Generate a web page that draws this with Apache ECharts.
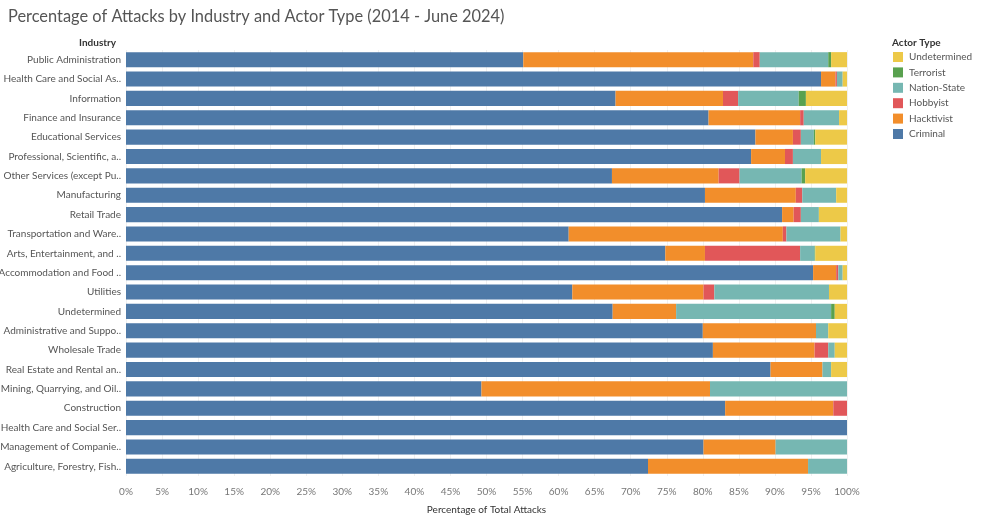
<!DOCTYPE html>
<html><head><meta charset="utf-8">
<script src="https://cdn.jsdelivr.net/npm/echarts@6/dist/echarts.min.js"></script>
<style>html,body{margin:0;padding:0;background:#fff}#c{width:1000px;height:519px}</style>
</head><body><div id="c"></div>
<script>
const industries = ["Public Administration","Health Care and Social As..","Information","Finance and Insurance","Educational Services","Professional, Scientific, a..","Other Services (except Pu..","Manufacturing","Retail Trade","Transportation and Ware..","Arts, Entertainment, and ..","Accommodation and Food ..","Utilities","Undetermined","Administrative and Suppo..","Wholesale Trade","Real Estate and Rental an..","Mining, Quarrying, and Oil..","Construction","Health Care and Social Ser..","Management of Companie..","Agriculture, Forestry, Fish.."];
const criminal     = [55.1,96.4,67.9,80.8,87.3,86.7,67.4,80.3,91.0,61.4,74.8,95.3,61.9,67.5,80.0,81.4,89.4,49.3,83.1,100,80.1,72.4];
const hacktivist   = [31.9, 2.0,14.9,12.7, 5.2, 4.7,14.8,12.6, 1.6,29.7, 5.5, 3.2,18.2, 8.8,15.7,14.1, 7.2,31.7,15.0,0,10.0,22.2];
const hobbyist     = [ 0.9, 0.2, 2.1, 0.5, 1.1, 1.1, 2.9, 0.9, 1.0, 0.5,13.2, 0.3, 1.5, 0, 0, 1.9, 0, 0, 1.9, 0, 0, 0];
const nationState  = [ 9.5, 0.8, 8.4, 4.9, 1.8, 3.9, 8.6, 4.7, 2.5, 7.5, 2.0, 0.6,15.9,21.5, 1.7, 0.9, 1.2,19.0, 0, 0, 9.9, 5.4];
const terrorist    = [ 0.4, 0, 1.0, 0, 0.2, 0, 0.5, 0, 0, 0, 0.1, 0, 0, 0.5, 0, 0, 0, 0, 0, 0, 0, 0];
const undetermined = [ 2.2, 0.6, 5.7, 1.1, 4.4, 3.6, 5.8, 1.5, 3.9, 0.9, 4.4, 0.6, 2.5, 1.7, 2.6, 1.7, 2.2, 0, 0, 0, 0, 0];
const seriesNames = ["Criminal","Hacktivist","Hobbyist","Nation-State","Terrorist","Undetermined"];
const seriesData = [criminal,hacktivist,hobbyist,nationState,terrorist,undetermined];
const colors = ["#4e79a7","#f28e2b","#e15759","#76b7b2","#59a14f","#edc948"];
const legendOrder = ["Undetermined","Terrorist","Nation-State","Hobbyist","Hacktivist","Criminal"];

const chart = echarts.init(document.getElementById('c'));
const font = 'Lato, "Open Sans", sans-serif';
chart.setOption({
  animation:false,
  textStyle:{fontFamily:font},
  title:[
    {text:"Percentage of Attacks by Industry and Actor Type (2014 - June 2024)",left:3,top:4,textStyle:{fontSize:16.4,fontWeight:'normal',color:'#555',fontFamily:font}},
    {text:"Industry",right:879,top:33,textStyle:{fontSize:10,fontWeight:'bold',color:'#333',fontFamily:font}},
    {text:"Actor Type",left:887,top:33,textStyle:{fontSize:10,fontWeight:'bold',color:'#333',fontFamily:font}}
  ],
  legend:{orient:'vertical',left:888,top:47,itemWidth:10,itemHeight:10,itemGap:5.4,icon:'rect',
    data:legendOrder,textStyle:{fontSize:10,color:'#555',fontFamily:font,padding:[0,0,0,1]}},
  grid:{left:126,right:153,top:50,bottom:43,containLabel:false,outerBoundsMode:'none'},
  xAxis:{type:'value',min:0,max:100,interval:5,
    axisLabel:{formatter:'{value}%',fontSize:10,color:'#777',margin:11},
    axisLine:{show:false},axisTick:{show:false},
    splitLine:{lineStyle:{color:'#f0f0f0'}},
    name:"Percentage of Total Attacks",nameLocation:'middle',nameGap:29,
    nameTextStyle:{fontSize:10,color:'#333'}},
  yAxis:{type:'category',data:industries,inverse:true,
    axisLabel:{fontSize:10,color:'#555',margin:5},
    axisLine:{show:false},axisTick:{show:false},splitLine:{show:false}},
  series:seriesNames.map((n,i)=>({name:n,type:'bar',stack:'all',data:seriesData[i],
    itemStyle:{color:colors[i]},barCategoryGap:'22%',emphasis:{disabled:true}}))
});
</script></body></html>
